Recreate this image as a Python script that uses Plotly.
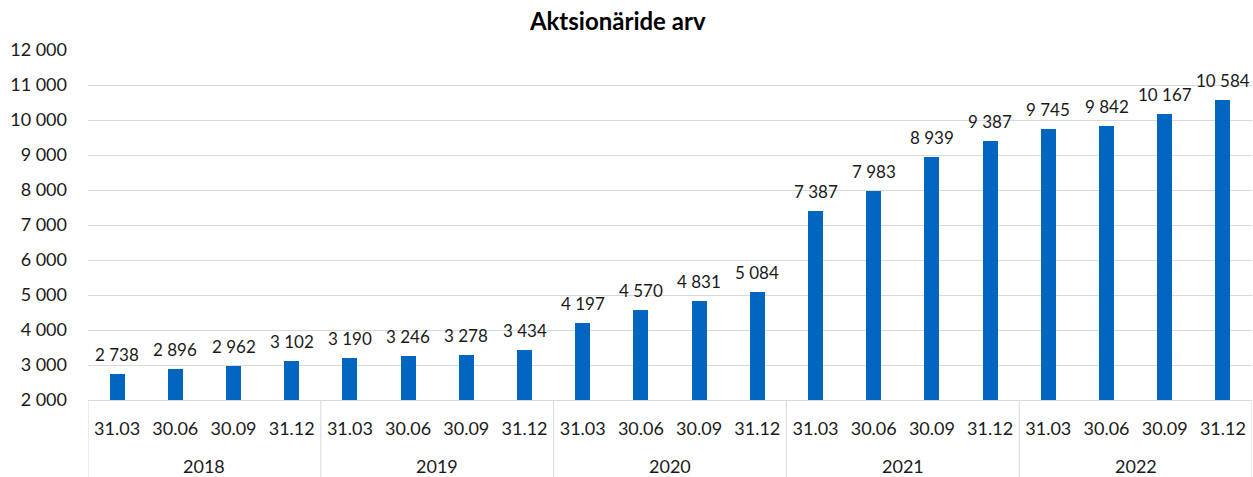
import plotly.graph_objects as go

years = ["2018", "2019", "2020", "2021", "2022"]
quarters = ["31.03", "30.06", "30.09", "31.12"]
values = [2738, 2896, 2962, 3102, 3190, 3246, 3278, 3434, 4197, 4570, 4831, 5084,
          7387, 7983, 8939, 9387, 9745, 9842, 10167, 10584]
title = "Aktsionäride arv"

FONT = "Lato, 'Open Sans', sans-serif"
TXT = "#1a1a1a"
GRID = "#d9d9d9"

n_q = len(quarters)
idx = list(range(len(values)))
tick_text = [quarters[i % n_q] for i in idx]

fig = go.Figure(go.Bar(
    x=idx,
    y=values,
    marker=dict(color="#0066C0", line=dict(width=0)),
    width=0.26,
    hoverinfo="x+y",
))

# data labels
for i, v in zip(idx, values):
    fig.add_annotation(x=i, y=v, xref="x", yref="y", text=f"{v:,}".replace(",", " "),
                       showarrow=False, yanchor="bottom", yshift=7,
                       font=dict(size=17, color=TXT, family=FONT))

# year labels and dividers
for k, yr in enumerate(years):
    center = k * n_q + (n_q - 1) / 2
    fig.add_annotation(x=center, y=0, xref="x", yref="paper", text=yr, showarrow=False,
                       yanchor="middle", yshift=-66, font=dict(size=18, color=TXT, family=FONT))
for k in range(len(years) + 1):
    xb = k * n_q - 0.5
    fig.add_shape(type="line", xref="x", yref="paper", x0=xb, x1=xb, y0=0, y1=-0.23,
                  line=dict(color=GRID, width=1))

fig.update_layout(
    width=1253, height=477,
    margin=dict(l=88, r=1, t=50, b=77),
    separators=", ",
    plot_bgcolor="white", paper_bgcolor="white",
    title=dict(text="<b>" + title + "</b>", x=0.493, xanchor="center", y=0.954, yanchor="middle",
               font=dict(size=24, color="#000", family=FONT)),
    font=dict(family=FONT, size=18, color=TXT),
    showlegend=False,
    bargap=0,
)
fig.update_yaxes(range=[2000, 12000], dtick=1000, tickformat=",d", showgrid=True,
                 gridcolor=GRID, gridwidth=1, zeroline=False, showline=False, automargin=False,
                 ticks="", ticklabelstandoff=20, tickfont=dict(size=18, color=TXT))
fig.update_xaxes(range=[-0.5, len(values) - 0.5], tickvals=idx, ticktext=tick_text,
                 showline=True, linecolor=GRID, linewidth=1, automargin=False,
                 ticks="", ticklabelstandoff=12, tickfont=dict(size=18, color=TXT),
                 showgrid=False, zeroline=False)

fig.write_html("out.html", config={"displayModeBar": False},
               post_script="document.body.style.margin='0';")
